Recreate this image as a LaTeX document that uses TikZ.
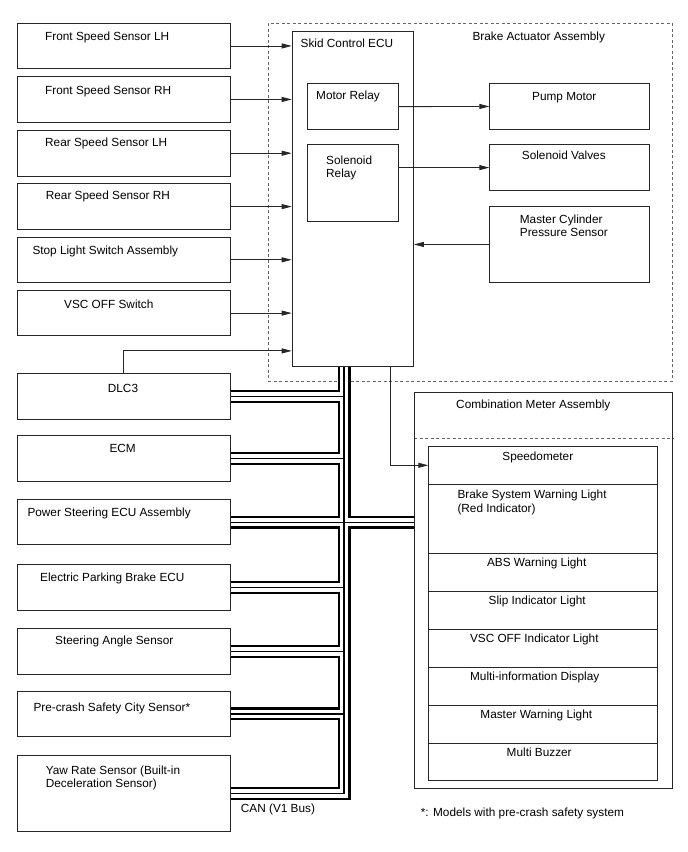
\documentclass[tikz,border=0pt]{standalone}
\usepackage{fontspec}
\setmainfont{Liberation Sans}
\usetikzlibrary{arrows.meta,calc}
\begin{document}
\begin{tikzpicture}[x=1pt,y=-1pt,
  box/.style={draw=black!85, line width=0.9pt, inner sep=0pt, anchor=north west},
  lbl/.style={inner sep=0pt, anchor=base west, font=\fontsize{11.8}{14}\selectfont},
  clbl/.style={inner sep=0pt, anchor=base, font=\fontsize{11.8}{14}\selectfont},
  arr/.style={draw=black!85, line width=0.9pt, -{Triangle[length=10pt,width=5pt]}},
  dashbox/.style={draw=black!60, line width=0.9pt, dash pattern=on 3pt off 2.5pt},
  busA/.style={draw=black, line width=13pt, line join=miter, line cap=butt},
  busB/.style={draw=white, line width=8.4pt, line join=miter, line cap=butt},
  busC/.style={draw=black, line width=1.2pt, line join=miter, line cap=butt}]
\useasboundingbox (0,0) rectangle (688,852);

% ---------- boxes ----------
\node[box, minimum width=213.3, minimum height=45.0] (fsl) at (16.7,23) {};
\node[box, minimum width=213.3, minimum height=46.0] (fsr) at (16.7,76) {};
\node[box, minimum width=213.3, minimum height=45.5] (rsl) at (16.7,130) {};
\node[box, minimum width=213.3, minimum height=45.7] (rsr) at (16.7,183.3) {};
\node[box, minimum width=213.3, minimum height=45.3] (stop) at (16.7,236.7) {};
\node[box, minimum width=213.3, minimum height=45.3] (vsc) at (16.7,290) {};
\node[box, minimum width=213.3, minimum height=46.3] (dlc) at (16.7,372.7) {};
\node[box, minimum width=213.3, minimum height=45.7] (ecm) at (16.7,435) {};
\node[box, minimum width=213.3, minimum height=45.3] (ps) at (16.7,499) {};
\node[box, minimum width=213.3, minimum height=45.7] (epb) at (16.7,564.3) {};
\node[box, minimum width=213.3, minimum height=45.4] (sas) at (16.7,628.3) {};
\node[box, minimum width=213.3, minimum height=45.6] (pcs) at (16.7,690.7) {};
\node[box, minimum width=213.3, minimum height=75.7] (yaw) at (16.7,755) {};

\node[box, dashbox, minimum width=404, minimum height=358] (baa) at (268,23) {};
\node[box, minimum width=121.3, minimum height=335.3] (ecu) at (291.7,30.7) {};
\node[box, minimum width=91.6, minimum height=45.7] (mr) at (306.7,83.3) {};
\node[box, minimum width=91.6, minimum height=76.4] (sr) at (306.7,144.3) {};
\node[box, minimum width=159.7, minimum height=45.4] (pump) at (489.3,83.3) {};
\node[box, minimum width=159.7, minimum height=45.7] (valves) at (489.3,144.3) {};
\node[box, minimum width=159.7, minimum height=76.6] (mcps) at (489.3,205.7) {};

\node[box, minimum width=257.7, minimum height=396] (comb) at (414,392.3) {};
\coordinate (divY) at (0,438.7);
\draw[dashbox] (comb.west |- divY) -- (comb.east |- divY);
\node[box, minimum width=228.4, minimum height=38.3] (speedo) at (428.3,445.7) {};
\node[box, minimum width=228.4, minimum height=68.7] (bsw) at (428.3,484) {};
\node[box, minimum width=228.4, minimum height=38.0] (abs) at (428.3,552.7) {};
\node[box, minimum width=228.4, minimum height=38.0] (slip) at (428.3,590.7) {};
\node[box, minimum width=228.4, minimum height=38.0] (vscl) at (428.3,628.7) {};
\node[box, minimum width=228.4, minimum height=38.0] (mid) at (428.3,666.7) {};
\node[box, minimum width=228.4, minimum height=38.0] (mwl) at (428.3,704.7) {};
\node[box, minimum width=228.4, minimum height=37.6] (buz) at (428.3,742.7) {};

% ---------- CAN bus ----------
\coordinate (busTop) at (344,366);
\foreach \s in {busA,busB,busC}{
  \draw[\s] (yaw.east) -- (yaw.east -| busTop) -- (busTop);
  \draw[\s] (dlc.east) -- (dlc.east -| busTop);
  \draw[\s] (ecm.east) -- (ecm.east -| busTop);
  \draw[\s] (ps.east) -- (ps.east -| comb.west);
  \draw[\s] (epb.east) -- (epb.east -| busTop);
  \draw[\s] (sas.east) -- (sas.east -| busTop);
  \draw[\s] (pcs.east) -- (pcs.east -| busTop);
}
% redraw borders touched by bus
\draw[draw=black!85, line width=0.9pt] (ecu.south west) -- (ecu.south east);
\draw[draw=black!85, line width=0.9pt] (comb.north west) -- (comb.south west);
\foreach \n in {dlc,ecm,ps,epb,sas,pcs,yaw}{
  \draw[draw=black!85, line width=0.9pt] (\n.north east) -- (\n.south east);
}

% ---------- arrows ----------
\foreach \n in {fsl,fsr,rsl,rsr,stop,vsc}{
  \draw[arr] (\n.east) -- (\n.east -| ecu.west);
}
\draw[arr] (dlc.north) |- ([yshift=16pt]ecu.south west);
\draw[arr] (mr.east) -- (pump.west);
\draw[arr] (sr.east |- valves.west) -- (valves.west);
\draw[arr] (mcps.west) -- (mcps.west -| ecu.east);
\draw[arr] ([xshift=37.65pt]ecu.south) |- (speedo.west);

% ---------- labels ----------
\node[lbl] (fslT) at (45,40) {Front Speed Sensor LH};
\node[lbl] (fsrT) at (45,94.3) {Front Speed Sensor RH};
\node[lbl] (rslT) at (45,146.7) {Rear Speed Sensor LH};
\node[lbl] (rsrT) at (45.7,199.3) {Rear Speed Sensor RH};
\node[lbl] (stopT) at (32.3,254) {Stop Light Switch Assembly};
\node[lbl] (vscT) at (64,308.3) {VSC OFF Switch};
\node[lbl] (dlcT) at (107.7,392) {DLC3};
\node[lbl] (ecmT) at (109.3,452.3) {ECM};
\node[lbl] (psT) at (27.3,516) {Power Steering ECU Assembly};
\node[lbl] (epbT) at (40,581.7) {Electric Parking Brake ECU};
\node[lbl] (sasT) at (55,644) {Steering Angle Sensor};
\node[lbl] (pcsT) at (33.3,711) {Pre-crash Safety City Sensor*};
\node[lbl] (yawT1) at (45.7,774) {Yaw Rate Sensor (Built-in};
\node[lbl] (yawT2) at (45.7,787.5) {Deceleration Sensor)};

\node[lbl] (ecuT) at (300.5,47.7) {Skid Control ECU};
\node[lbl] (baaT) at (472.3,40.7) {Brake Actuator Assembly};
\node[lbl] (mrT) at (316,99.3) {Motor Relay};
\node[lbl] (srT1) at (326,164) {Solenoid};
\node[lbl] (srT2) at (326,177.5) {Relay};
\node[clbl] (pumpT) at (564.3,100) {Pump Motor};
\node[clbl] (valvesT) at (563.8,159.3) {Solenoid Valves};
\node[lbl] (mcpsT1) at (519.7,223.3) {Master Cylinder};
\node[lbl] (mcpsT2) at (519.7,236.3) {Pressure Sensor};

\node[clbl] (combT) at (533.3,408.3) {Combination Meter Assembly};
\node[clbl] (speedoT) at (537.8,460) {Speedometer};
\node[lbl] (bswT1) at (457.3,498.3) {Brake System Warning Light};
\node[lbl] (bswT2) at (457.3,512.3) {(Red Indicator)};
\node[clbl] (absT) at (536.7,566) {ABS Warning Light};
\node[clbl] (slipT) at (537.2,604) {Slip Indicator Light};
\node[clbl] (vsclT) at (534.3,642.7) {VSC OFF Indicator Light};
\node[clbl] (midT) at (534.7,680.7) {Multi-information Display};
\node[clbl] (mwlT) at (536.3,718.7) {Master Warning Light};
\node[clbl] (buzT) at (539.2,756.7) {Multi Buzzer};

\node[lbl] (canT) at (240.7,812.7) {CAN (V1 Bus)};
\node[lbl] (noteT) at (420.7,816) {*: Models with pre-crash safety system};
\end{tikzpicture}
\end{document}
